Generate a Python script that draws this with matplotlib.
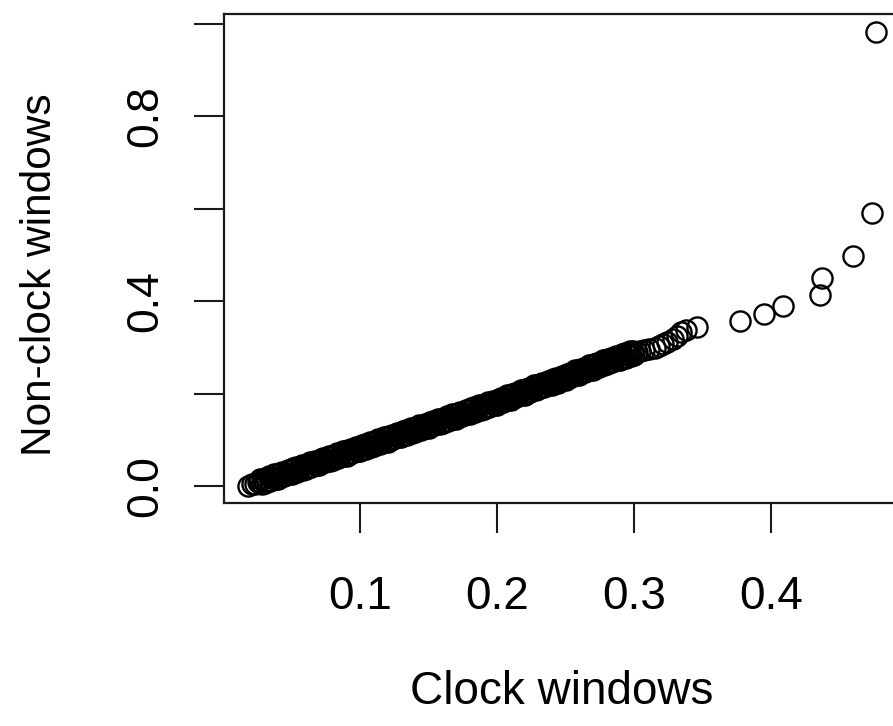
import matplotlib
matplotlib.use("Agg")
import matplotlib.pyplot as plt

# Sorted quantiles: clock windows (x) vs non-clock windows (y)
clock_q = [
    0.018, 0.021, 0.023, 0.025,
    0.026, 0.027, 0.028, 0.029, 0.030, 0.031, 0.032, 0.033, 0.034, 0.035,
    0.036, 0.037, 0.038, 0.039, 0.040, 0.041, 0.042, 0.043, 0.044, 0.045,
    0.046, 0.047, 0.048, 0.049, 0.050, 0.051, 0.052, 0.053, 0.054, 0.055,
    0.056, 0.057, 0.058, 0.059, 0.060, 0.061, 0.062, 0.063, 0.064, 0.065,
    0.066, 0.067, 0.068, 0.069, 0.070, 0.071, 0.072, 0.073, 0.074, 0.075,
    0.076, 0.077, 0.078, 0.079, 0.080, 0.081, 0.082, 0.083, 0.084, 0.085,
    0.086, 0.087, 0.088, 0.089, 0.090, 0.091, 0.092, 0.093, 0.094, 0.095,
    0.096, 0.097, 0.098, 0.099, 0.100, 0.101, 0.102, 0.103, 0.104, 0.105,
    0.106, 0.107, 0.108, 0.109, 0.110, 0.111, 0.112, 0.113, 0.114, 0.115,
    0.116, 0.117, 0.118, 0.119, 0.120, 0.121, 0.122, 0.123, 0.124, 0.125,
    0.126, 0.127, 0.128, 0.129, 0.130, 0.131, 0.132, 0.133, 0.134, 0.135,
    0.136, 0.137, 0.138, 0.139, 0.140, 0.141, 0.142, 0.143, 0.144, 0.145,
    0.146, 0.147, 0.148, 0.149, 0.150, 0.151, 0.152, 0.153, 0.154, 0.155,
    0.156, 0.157, 0.158, 0.159, 0.160, 0.161, 0.162, 0.163, 0.164, 0.165,
    0.166, 0.167, 0.168, 0.169, 0.170, 0.171, 0.172, 0.173, 0.174, 0.175,
    0.176, 0.177, 0.178, 0.179, 0.180, 0.181, 0.182, 0.183, 0.184, 0.185,
    0.186, 0.187, 0.188, 0.189, 0.190, 0.191, 0.192, 0.193, 0.194, 0.195,
    0.196, 0.197, 0.198, 0.199, 0.200, 0.201, 0.202, 0.203, 0.204, 0.205,
    0.206, 0.207, 0.208, 0.209, 0.210, 0.211, 0.212, 0.213, 0.214, 0.215,
    0.216, 0.217, 0.218, 0.219, 0.220, 0.221, 0.222, 0.223, 0.224, 0.225,
    0.226, 0.227, 0.228, 0.229, 0.230, 0.231, 0.232, 0.233, 0.234, 0.235,
    0.236, 0.237, 0.238, 0.239, 0.240, 0.241, 0.242, 0.243, 0.244, 0.245,
    0.246, 0.247, 0.248, 0.249, 0.250, 0.251, 0.252, 0.253, 0.254, 0.255,
    0.256, 0.257, 0.258, 0.259, 0.260, 0.261, 0.262, 0.263, 0.264, 0.265,
    0.266, 0.267, 0.268, 0.269, 0.270, 0.271, 0.272, 0.273, 0.274, 0.275,
    0.276, 0.277, 0.278, 0.279, 0.280, 0.281, 0.282, 0.283, 0.284, 0.285,
    0.286, 0.287, 0.288, 0.289, 0.290, 0.291, 0.292, 0.293, 0.294, 0.295,
    0.296, 0.297, 0.298, 0.299, 0.300,
    0.302, 0.304, 0.307, 0.311, 0.315, 0.318, 0.321, 0.324, 0.328, 0.331,
    0.334, 0.338, 0.346,
    0.377, 0.395, 0.409, 0.436, 0.437, 0.460, 0.474, 0.477,
]
nonclock_q = [
    0.000, 0.004, 0.004, 0.008,
    0.008, 0.015, 0.005, 0.015, 0.006, 0.018, 0.011, 0.021, 0.011, 0.019,
    0.018, 0.025, 0.015, 0.025, 0.016, 0.028, 0.021, 0.031, 0.021, 0.029,
    0.028, 0.035, 0.025, 0.035, 0.026, 0.038, 0.031, 0.041, 0.031, 0.039,
    0.038, 0.045, 0.035, 0.045, 0.036, 0.048, 0.041, 0.051, 0.041, 0.049,
    0.048, 0.055, 0.045, 0.055, 0.046, 0.058, 0.051, 0.061, 0.051, 0.059,
    0.058, 0.065, 0.055, 0.065, 0.056, 0.068, 0.061, 0.071, 0.061, 0.069,
    0.068, 0.075, 0.065, 0.075, 0.066, 0.078, 0.071, 0.081, 0.071, 0.079,
    0.078, 0.085, 0.075, 0.085, 0.076, 0.088, 0.081, 0.091, 0.081, 0.089,
    0.088, 0.095, 0.085, 0.095, 0.086, 0.098, 0.091, 0.101, 0.091, 0.099,
    0.098, 0.105, 0.095, 0.105, 0.096, 0.108, 0.101, 0.111, 0.101, 0.109,
    0.108, 0.115, 0.105, 0.115, 0.106, 0.118, 0.111, 0.121, 0.111, 0.119,
    0.118, 0.125, 0.115, 0.125, 0.116, 0.128, 0.121, 0.131, 0.121, 0.129,
    0.128, 0.135, 0.125, 0.135, 0.126, 0.138, 0.131, 0.141, 0.131, 0.139,
    0.138, 0.145, 0.135, 0.145, 0.136, 0.148, 0.141, 0.151, 0.141, 0.149,
    0.148, 0.155, 0.145, 0.155, 0.146, 0.158, 0.151, 0.161, 0.151, 0.159,
    0.158, 0.165, 0.155, 0.165, 0.156, 0.168, 0.161, 0.171, 0.161, 0.169,
    0.168, 0.175, 0.165, 0.175, 0.166, 0.178, 0.171, 0.181, 0.171, 0.179,
    0.178, 0.185, 0.175, 0.185, 0.176, 0.188, 0.181, 0.191, 0.181, 0.189,
    0.189, 0.196, 0.186, 0.196, 0.187, 0.199, 0.192, 0.202, 0.192, 0.200,
    0.200, 0.207, 0.197, 0.207, 0.198, 0.210, 0.203, 0.213, 0.203, 0.211,
    0.211, 0.218, 0.208, 0.218, 0.209, 0.221, 0.214, 0.224, 0.214, 0.222,
    0.221, 0.228, 0.218, 0.228, 0.219, 0.231, 0.224, 0.234, 0.224, 0.232,
    0.232, 0.239, 0.229, 0.239, 0.230, 0.242, 0.235, 0.245, 0.235, 0.243,
    0.243, 0.250, 0.240, 0.250, 0.241, 0.253, 0.246, 0.256, 0.246, 0.254,
    0.254, 0.261, 0.251, 0.261, 0.252, 0.264, 0.257, 0.267, 0.257, 0.265,
    0.265, 0.272, 0.262, 0.272, 0.263, 0.275, 0.268, 0.278, 0.268, 0.276,
    0.275, 0.282, 0.272, 0.282, 0.273, 0.285, 0.278, 0.288, 0.278, 0.286,
    0.285, 0.292, 0.282, 0.292, 0.283,
    0.291, 0.293, 0.294, 0.296, 0.299, 0.303, 0.307, 0.312, 0.318, 0.325,
    0.333, 0.338, 0.345,
    0.357, 0.372, 0.390, 0.413, 0.450, 0.498, 0.591, 0.983,
]

x_ticks = [0.1, 0.2, 0.3, 0.4]
x_ticklabels = ["0.1", "0.2", "0.3", "0.4"]
y_ticks = [0.0, 0.2, 0.4, 0.6, 0.8, 1.0]
y_ticklabels = ["0.0", "", "0.4", "", "0.8", ""]

x_title = "Clock windows"
y_title = "Non-clock windows"

plt.rcParams["font.family"] = ["Liberation Sans", "DejaVu Sans"]

W, H = 893, 726
fig = plt.figure(figsize=(W / 100, H / 100), dpi=100)
fig.patch.set_facecolor("white")

# plot region in pixels (right edge runs past the figure border)
left_px, right_px, top_px, bottom_px = 223.5, 901.0, 13.5, 503.0
ax = fig.add_axes([left_px / W, 1 - bottom_px / H,
                   (right_px - left_px) / W, (bottom_px - top_px) / H])

ax.plot(clock_q, nonclock_q, linestyle="none", marker="o", markersize=14.5,
        markerfacecolor="none", markeredgecolor="black", markeredgewidth=1.7)

ax.set_xlim(0.0, 0.4949)
ax.set_ylim(-0.0368, 1.0227)

ax.set_xticks(x_ticks)
ax.set_xticklabels(x_ticklabels)
ax.set_yticks(y_ticks)
ax.set_yticklabels(y_ticklabels, rotation=90, va="center")

ax.tick_params(axis="both", direction="out", length=21.5, width=1.5,
               color="#1a1a1a", labelsize=33, labelcolor="black")
ax.tick_params(axis="x", pad=30)
ax.tick_params(axis="y", pad=19.5, labelsize=32)

for sp in ax.spines.values():
    sp.set_linewidth(1.6)
    sp.set_color("#1a1a1a")

fig.text(562 / W, 1 - 704 / H, x_title, fontsize=33, ha="center",
         va="baseline")
fig.text(51 / W, 1 - 275 / H, y_title, fontsize=30.5, rotation=90,
         rotation_mode="anchor", ha="center", va="baseline")

fig.savefig("out.png", dpi=100)
